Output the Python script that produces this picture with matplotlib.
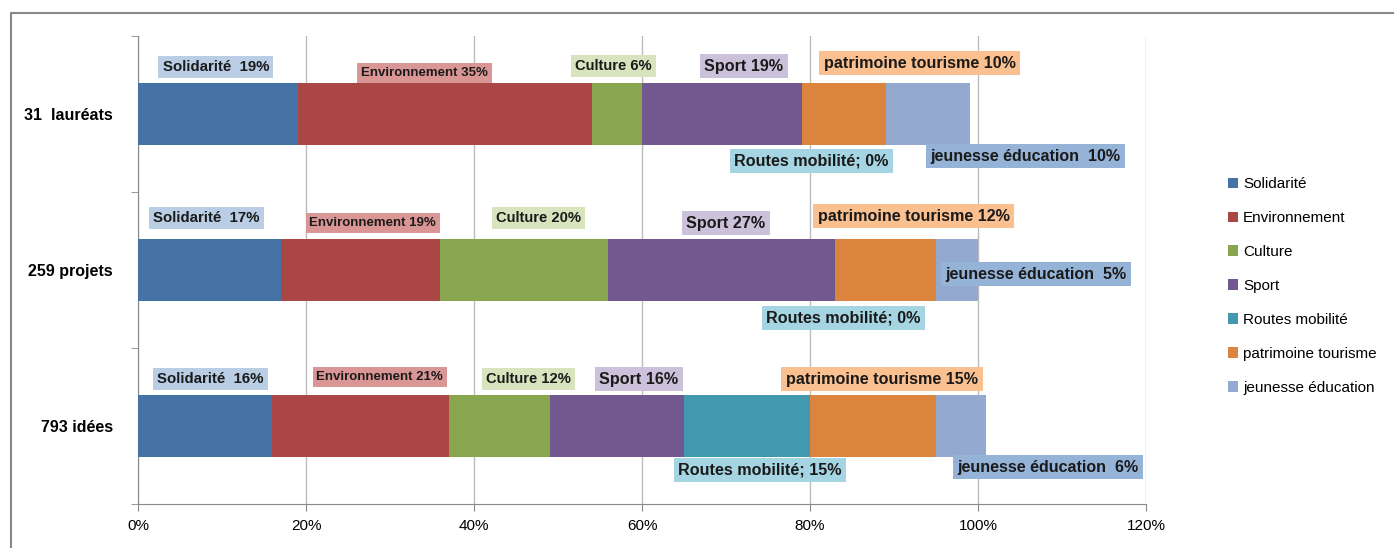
import matplotlib
matplotlib.use("Agg")
import matplotlib.pyplot as plt
import numpy as np
from matplotlib.lines import Line2D
from matplotlib import font_manager

categories = ["31  lauréats", "259 projets", "793 idées"]
series = ["Solidarité", "Environnement", "Culture", "Sport", "Routes mobilité",
          "patrimoine tourisme", "jeunesse éducation"]
solidarite = [19, 17, 16]
environnement = [35, 19, 21]
culture = [6, 20, 12]
sport = [19, 27, 16]
routes = [0, 0, 15]
patrimoine = [10, 12, 15]
jeunesse = [10, 5, 6]
values = [solidarite, environnement, culture, sport, routes, patrimoine, jeunesse]
label_fmt = ["Solidarité  {}%", "Environnement {}%", "Culture {}%", "Sport {}%",
             "Routes mobilité; {}%", "patrimoine tourisme {}%", "jeunesse éducation  {}%"]
xticks = [0, 20, 40, 60, 80, 100, 120]

colors = ["#4572A7", "#AA4643", "#89A54E", "#71588F", "#4198AF", "#DB843D", "#93A9CF"]
box_colors = ["#B9CDE5", "#D99694", "#D7E4BD", "#CCC1DA", "#A5D5E2", "#FAC090", "#95B3D7"]
label_sizes = [10.8, 9.5, 10.6, 11.6, 11.6, 11.6, 11.5]

# label offsets in pixels from segment centre (per row, per series)
offsets = [
    [(-2, 47), (-20, 41), (-3, 48), (22, 48), (10, -47), (76, 51), (98, -42)],
    [(-3, 52), (12, 47), (14, 52), (4, 47), (8, -48), (28, 54), (79, -4)],
    [(5, 47), (19, 49), (29, 47), (22, 47), (13, -44), (9, 47), (87, -41)],
]

avail = {f.name for f in font_manager.fontManager.ttflist}
narrow = "Liberation Sans Narrow" if "Liberation Sans Narrow" in avail else "Liberation Sans"
plt.rcParams["font.family"] = ["Liberation Sans", "DejaVu Sans"]

fig = plt.figure(figsize=(13.94, 5.48), dpi=100)
ax = fig.add_axes([138 / 1394, 1 - 504 / 548, (1146 - 138) / 1394, (504 - 36) / 548])

ypos = np.arange(len(categories))
left = np.zeros(len(categories))
handles = []
for i, (name, vals) in enumerate(zip(series, values)):
    h = ax.barh(ypos, vals, left=left, height=0.4, color=colors[i], label=name, zorder=3)
    handles.append(h)
    for r in range(len(categories)):
        cx = left[r] + vals[r] / 2
        dx, dy = offsets[r][i]
        ax.annotate(label_fmt[i].format(vals[r]), xy=(cx, ypos[r]), xytext=(dx, dy),
                    textcoords="offset pixels", ha="center", va="center",
                    fontsize=label_sizes[i], fontweight="bold", family=[narrow, "DejaVu Sans"],
                    color="#1a1a1a", zorder=5,
                    bbox=dict(boxstyle="square,pad=0.28", fc=box_colors[i], ec="none"))
    left = left + np.array(vals)

ax.set_xlim(0, 120)
ax.set_ylim(2.5, -0.5)
ax.set_xticks(xticks)
ax.set_xticklabels([f"{t}%" for t in xticks], fontsize=11)
ax.set_yticks(ypos)
ax.set_yticklabels(categories, fontsize=11.5, fontweight="bold")
ax.set_yticks([-0.5, 0.5, 1.5, 2.5], minor=True)
ax.tick_params(axis="y", which="major", length=0, pad=18)
ax.tick_params(axis="y", which="minor", length=5, color="#888888", direction="out")
ax.tick_params(axis="x", length=5, color="#888888", direction="out", pad=6)
ax.grid(axis="x", color="#BBBBBB", linewidth=1, zorder=0)
for s in ["top", "right"]:
    ax.spines[s].set_visible(False)
for s in ["left", "bottom"]:
    ax.spines[s].set_color("#888888")

leg = fig.legend(handles=handles, labels=series, loc="center left",
                 bbox_to_anchor=(1214 / 1394, 1 - 286 / 548), frameon=False,
                 fontsize=11, handlelength=0.7, handleheight=0.7, handletextpad=0.3,
                 labelspacing=1.3)

# outer chart border (only left and top visible in the crop)
bx, by = 11 / 1394, 1 - 13 / 548
fig.add_artist(Line2D([bx, bx, 1.01], [-0.01, by, by], transform=fig.transFigure,
                      color="#888888", lw=1.5))

fig.savefig("out.png", dpi=100)
